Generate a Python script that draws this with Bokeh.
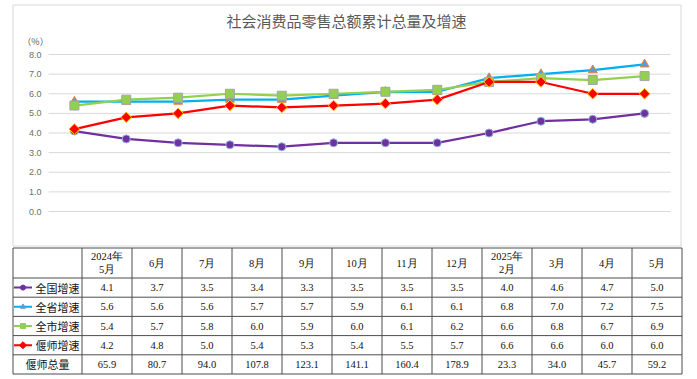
import numpy as np
from bokeh.plotting import figure
from bokeh.models import Range1d, FixedTicker, NumeralTickFormatter
from bokeh.core.properties import value
from bokeh.embed import file_html
from bokeh.resources import INLINE

# ---------------- data ----------------
title_text = "社会消费品零售总额累计总量及增速"
unit_text = "（%）"
months = ["2024年\n5月", "6月", "7月", "8月", "9月", "10月", "11月", "12月",
          "2025年\n2月", "3月", "4月", "5月"]
series_names = ["全国增速", "全省增速", "全市增速", "偃师增速"]
national = [4.1, 3.7, 3.5, 3.4, 3.3, 3.5, 3.5, 3.5, 4.0, 4.6, 4.7, 5.0]
province = [5.6, 5.6, 5.6, 5.7, 5.7, 5.9, 6.1, 6.1, 6.8, 7.0, 7.2, 7.5]
city = [5.4, 5.7, 5.8, 6.0, 5.9, 6.0, 6.1, 6.2, 6.6, 6.8, 6.7, 6.9]
yanshi = [4.2, 4.8, 5.0, 5.4, 5.3, 5.4, 5.5, 5.7, 6.6, 6.6, 6.0, 6.0]
total_name = "偃师总量"
yanshi_total = [65.9, 80.7, 94.0, 107.8, 123.1, 141.1, 160.4, 178.9, 23.3, 34.0, 45.7, 59.2]
y_ticks = [0, 1, 2, 3, 4, 5, 6, 7, 8]

series_values = [national, province, city, yanshi]

# ---------------- styles ----------------
line_colors = ["#7030A0", "#00B0F0", "#92D050", "#FF0000"]
marker_types = ["circle", "triangle", "square", "square"]
marker_fill = ["#7030A0", "#5B9BD5", "#92D050", "#FF0000"]
marker_edge = ["#8FB4E3", "#ED7D31", "#A5A5A5", "#FFC000"]
marker_size = [8, 9, 9, 7.5]
marker_angle = [0, 0, 0, np.pi / 4]

# ---------------- geometry (pixels) ----------------
W, H = 697, 379
FL, FR, FT, FB = 48, 670, 54, 211   # plot-area edges
n = len(months)
ymin, ymax = y_ticks[0], y_ticks[-1]
xs = list(range(n))

def fx(px):
    return -0.5 + (px - FL) * n / (FR - FL)

def fy(py):
    return ymax - (py - FT) * (ymax - ymin) / (FB - FT)

p = figure(width=W, height=H, x_range=Range1d(fx(0), fx(W)), y_range=Range1d(fy(H), fy(0)),
           output_backend="svg", toolbar_location=None, min_border=0,
           outline_line_color=None, background_fill_color="white",
           border_fill_color="white")
p.xaxis.visible = False
p.grid.visible = False

# y axis drawn at the plot-area left edge
ax = p.yaxis[0]
ax.fixed_location = fx(FL)
ax.ticker = FixedTicker(ticks=y_ticks)
ax.formatter = NumeralTickFormatter(format="0.0")
ax.axis_line_color = None
ax.major_tick_line_color = None
ax.minor_tick_line_color = None
ax.major_tick_in = 0
ax.major_tick_out = 0
ax.major_label_standoff = 7
ax.major_label_text_font = "Liberation Sans"
ax.major_label_text_font_size = "9px"
ax.major_label_text_color = "#6e6e6e"

# outer chart border
p.quad(left=[fx(12.5)], right=[fx(680.5)], top=[fy(4.5)], bottom=[fy(245.5)],
       fill_color=None, line_color="#d9d9d9", line_width=1)

# horizontal gridlines across the plot area
p.segment(x0=[fx(FL)] * len(y_ticks), x1=[fx(FR)] * len(y_ticks), y0=y_ticks, y1=y_ticks,
          line_color="#d9d9d9", line_width=1)

for vals, lc, mt, mf, me, ms, ma in zip(series_values, line_colors, marker_types,
                                         marker_fill, marker_edge, marker_size, marker_angle):
    p.line(xs, vals, line_color=lc, line_width=2.25)
    p.scatter(xs, vals, marker=mt, size=ms, fill_color=mf, line_color=me,
              line_width=1, angle=ma)

p.text(x=[fx(346)], y=[fy(20)], text=[title_text], text_align="center",
       text_baseline="middle", text_font=value("Noto Sans CJK SC"),
       text_font_size="15px", text_color="#595959")
p.text(x=[fx(35)], y=[fy(40.5)], text=[unit_text], text_align="center",
       text_baseline="middle", text_font=value("Noto Sans CJK SC"),
       text_font_size="9px", text_color="#595959")

# ---------------- data table ----------------
left_x = 12.5
first_w = 69
col_w = 50
top_y = 247.5
head_h = 30
row_h = 19.2
nrows = len(series_names) + 1

col_edges = [left_x] + [left_x + first_w + col_w * k for k in range(n + 1)]
row_edges = [top_y] + [top_y + head_h + row_h * k for k in range(nrows + 1)]
p.segment(x0=[fx(left_x)] * len(row_edges), x1=[fx(col_edges[-1])] * len(row_edges),
          y0=[fy(v) for v in row_edges], y1=[fy(v) for v in row_edges],
          line_color="#4d4d4d", line_width=1)
p.segment(x0=[fx(v) for v in col_edges], x1=[fx(v) for v in col_edges],
          y0=[fy(row_edges[0])] * len(col_edges), y1=[fy(row_edges[-1])] * len(col_edges),
          line_color="#4d4d4d", line_width=1)

centers = [fx(left_x + first_w + col_w * (k + 0.5)) for k in range(n)]
num_font = value("Liberation Serif")
txt_col = "#111111"

# header
h1x, h1t, h1y = [], [], []
for cx, m in zip(centers, months):
    parts = m.split("\n")
    if len(parts) == 1:
        h1x.append(cx)
        h1t.append(m)
        h1y.append(fy(top_y + head_h / 2))
    else:
        h1x += [cx, cx]
        h1t += parts
        h1y += [fy(top_y + head_h / 2 - 6.5), fy(top_y + head_h / 2 + 6.5)]
p.text(x=h1x, y=h1y, text=h1t, text_align="center", text_baseline="middle",
       text_font=num_font, text_font_size="10.5px", text_color=txt_col)

# value rows
all_rows = series_values + [yanshi_total]
for r, vals in enumerate(all_rows):
    cy = fy(row_edges[r + 1] + row_h / 2)
    p.text(x=centers, y=[cy] * n, text=[f"{v:.1f}" for v in vals], text_align="center",
           text_baseline="middle", text_font=num_font, text_font_size="10.5px",
           text_color=txt_col)

# row headers with legend keys
for r, name in enumerate(series_names):
    cy = fy(row_edges[r + 1] + row_h / 2)
    p.line([fx(13.5), fx(31.5)], [cy, cy], line_color=line_colors[r], line_width=2)
    p.scatter([fx(22.5)], [cy], marker=marker_types[r], size=5, fill_color=marker_fill[r],
              line_color=marker_fill[r], angle=marker_angle[r])
    p.text(x=[fx(35)], y=[cy], text=[name], text_align="left", text_baseline="middle",
           text_font=value("Noto Sans CJK SC"), text_font_size="11px", text_color=txt_col)

cy = fy(row_edges[nrows] + row_h / 2)
p.text(x=[fx(left_x + first_w / 2)], y=[cy], text=[total_name], text_align="center",
       text_baseline="middle", text_font=value("Noto Sans CJK SC"), text_font_size="11px",
       text_color=txt_col)

open("out.html", "w").write(file_html(p, INLINE))
